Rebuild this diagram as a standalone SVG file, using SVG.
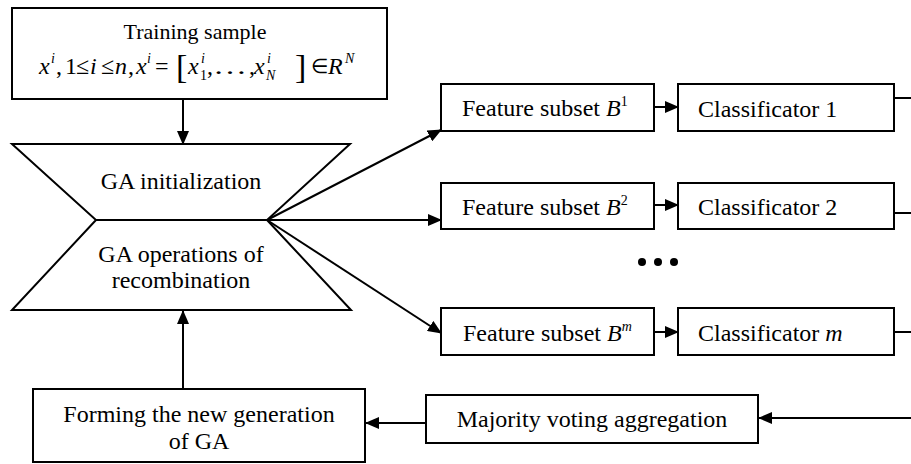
<svg xmlns="http://www.w3.org/2000/svg" width="911" height="464" viewBox="0 0 911 464">
  <style>
    .box { fill: #fff; stroke: #000; stroke-width: 2; }
    .ln { fill: none; stroke: #000; stroke-width: 2; }
    .arr { fill: none; stroke: #000; stroke-width: 2; marker-end: url(#ah); }
    text { font-family: "Liberation Serif", "Times New Roman", serif; fill: #000; font-size: 24px; }
    .it { font-style: italic; }
    .s { font-size: 14px; }
    .t22 { font-size: 22px; }
    .el { font-size: 20px; }
    .br { font-size: 34px; font-weight: 300; }
  </style>
  <defs>
    <marker id="ah" markerUnits="userSpaceOnUse" markerWidth="14" markerHeight="12" refX="13" refY="6" orient="auto">
      <path d="M0,0 L14,6 L0,12 Z" fill="#000"/>
    </marker>
  </defs>
  <rect width="911" height="464" fill="#fff"/>

  <!-- connectors -->
  <g id="connectors">
    <line class="arr" x1="183" y1="99" x2="183" y2="144"/>
    <line class="arr" x1="183" y1="389" x2="183" y2="311"/>
    <line class="arr" x1="267" y1="220" x2="441" y2="130"/>
    <line class="arr" x1="267" y1="220" x2="441" y2="220"/>
    <line class="arr" x1="267" y1="220" x2="441" y2="333"/>
    <line class="arr" x1="655" y1="107" x2="678" y2="107"/>
    <line class="arr" x1="655" y1="205" x2="678" y2="205"/>
    <line class="arr" x1="655" y1="332" x2="678" y2="332"/>
    <line class="ln" x1="892" y1="98" x2="911" y2="98"/>
    <line class="ln" x1="894" y1="213" x2="911" y2="213"/>
    <line class="ln" x1="894" y1="332" x2="911" y2="332"/>
    <line class="arr" x1="911" y1="418" x2="759" y2="418"/>
    <line class="arr" x1="426" y1="423" x2="366" y2="423"/>
  </g>

  <!-- training sample -->
  <g id="training">
    <rect class="box" x="12" y="8" width="375" height="91"/>
    <text class="t22" x="195" y="39" text-anchor="middle">Training sample</text>
    <!-- x^i, 1 ≤ i ≤ n, x^i = [x_1^i, …, x_N^i] ∈ R^N -->
    <text class="it" x="39" y="74">x</text>
    <text class="it s" x="51" y="63">i</text>
    <text x="56" y="74">,</text>
    <text x="65" y="74">1</text>
    <text x="76" y="74">≤</text>
    <text class="it" x="90" y="74">i</text>
    <text x="101" y="74">≤</text>
    <text class="it" x="115" y="74">n</text>
    <text x="128" y="74">,</text>
    <text class="it" x="136" y="74">x</text>
    <text class="it s" x="147" y="63">i</text>
    <text x="155" y="74">=</text>
    <text class="br" x="176" y="78">[</text>
    <text class="it" x="188" y="74">x</text>
    <text class="s" x="200" y="80">1</text>
    <text class="it s" x="201" y="63">i</text>
    <text x="207" y="74">,</text>
    <text x="213" y="74" textLength="34" lengthAdjust="spacingAndGlyphs">…</text>
    <text x="249" y="74">,</text>
    <text class="it" x="254" y="74">x</text>
    <text class="it s" x="266" y="80">N</text>
    <text class="it s" x="267" y="63">i</text>
    <text class="br" x="295" y="78">]</text>
    <text class="el" x="311" y="73">∈</text>
    <text class="it" x="328" y="74">R</text>
    <text class="it s" x="345" y="63">N</text>
  </g>

  <!-- GA hourglass -->
  <g id="ga">
    <path class="box" d="M12,144 L350,144 L267,220 L351,310 L12,310 L96,220 Z"/>
    <line class="ln" x1="96" y1="220" x2="267" y2="220"/>
    <text x="181" y="189" text-anchor="middle">GA initialization</text>
    <text x="181" y="262" text-anchor="middle">GA operations of</text>
    <text x="181" y="288" text-anchor="middle">recombination</text>
  </g>

  <!-- feature subsets -->
  <g id="feature1">
    <rect class="box" x="441" y="84" width="213" height="47"/>
    <text x="462" y="116">Feature subset <tspan class="it">B</tspan><tspan class="s" dy="-10">1</tspan></text>
  </g>
  <g id="feature2">
    <rect class="box" x="441" y="183" width="213" height="46"/>
    <text x="462" y="215">Feature subset <tspan class="it">B</tspan><tspan class="s" dy="-10">2</tspan></text>
  </g>
  <g id="featurem">
    <rect class="box" x="441" y="308" width="213" height="47"/>
    <text x="463" y="341">Feature subset <tspan class="it">B</tspan><tspan class="it s" dy="-10">m</tspan></text>
  </g>

  <!-- classifiers -->
  <g id="classifier1">
    <rect class="box" x="678" y="84" width="216" height="47"/>
    <text x="698" y="117">Classificator 1</text>
  </g>
  <g id="classifier2">
    <rect class="box" x="678" y="183" width="216" height="46"/>
    <text x="698" y="215">Classificator 2</text>
  </g>
  <g id="classifierm">
    <rect class="box" x="678" y="308" width="216" height="47"/>
    <text x="698" y="341">Classificator <tspan class="it">m</tspan></text>
  </g>

  <!-- ellipsis -->
  <g id="dots">
    <circle cx="642" cy="262" r="4"/>
    <circle cx="658" cy="262" r="4"/>
    <circle cx="674" cy="262" r="4"/>
  </g>

  <!-- aggregation and new generation -->
  <g id="majority">
    <rect class="box" x="426" y="395" width="332" height="48"/>
    <text x="592" y="427" text-anchor="middle">Majority voting aggregation</text>
  </g>
  <g id="forming">
    <rect class="box" x="33" y="389" width="332" height="73"/>
    <text x="199" y="422" text-anchor="middle">Forming the new generation</text>
    <text x="199" y="449" text-anchor="middle">of GA</text>
  </g>
</svg>
